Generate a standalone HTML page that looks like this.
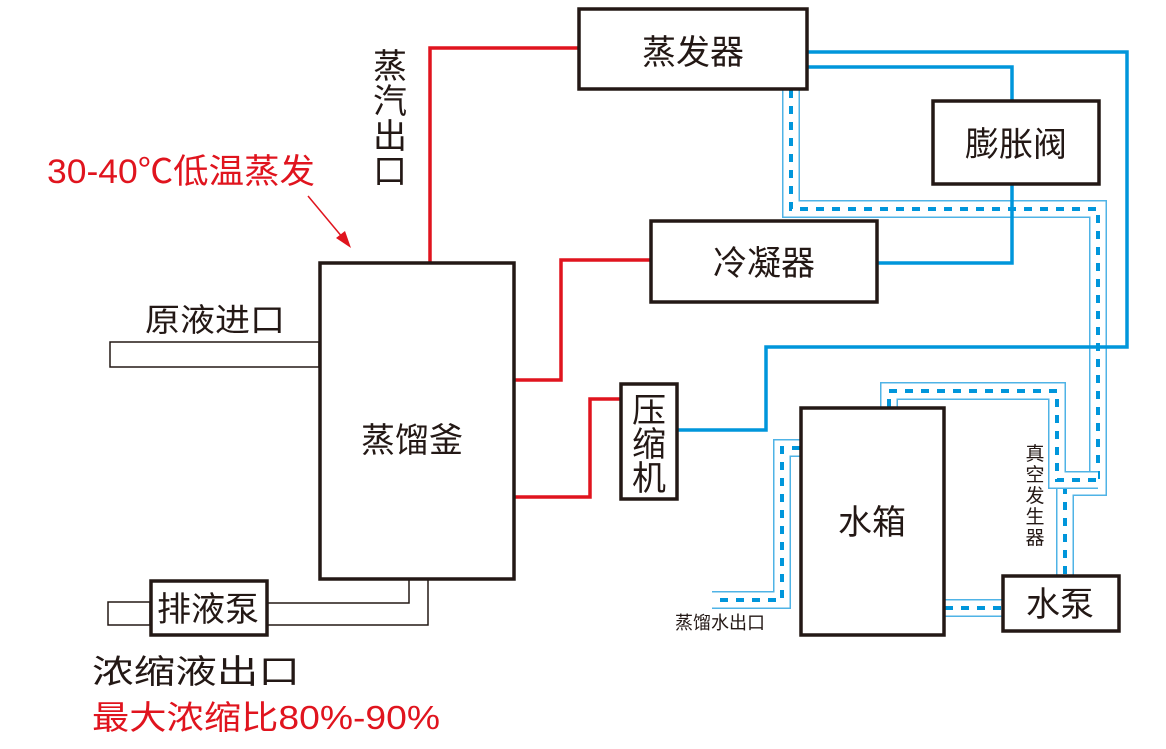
<!DOCTYPE html>
<html><head><meta charset="utf-8"><style>
body{margin:0;background:#fff;}
svg text{font-family:"Liberation Sans","Noto Sans CJK SC",sans-serif;fill:#231815;}
</style></head><body>
<svg width="1166" height="744" viewBox="0 0 1166 744" xmlns="http://www.w3.org/2000/svg">
<g fill="none" stroke-linejoin="miter">
<polyline points="791,90 791,209 1098,209 1098,487 1065,487 1065,575" stroke="#4fb3e6" stroke-width="18"/>
<polyline points="791,90 791,209 1098,209 1098,487 1065,487 1065,575" stroke="#fff" stroke-width="15"/>
<polyline points="791,90 791,209 1098,209 1098,487 1065,487 1065,575" stroke="#0096db" stroke-width="4" stroke-dasharray="8,8"/>
<polyline points="889,407 889,391 1057,391 1057,480 1098,480" stroke="#4fb3e6" stroke-width="18"/>
<polyline points="889,407 889,391 1057,391 1057,480 1098,480" stroke="#fff" stroke-width="15"/>
<polyline points="889,407 889,391 1057,391 1057,480 1096,480" stroke="#0096db" stroke-width="4" stroke-dasharray="8,8"/>
<polyline points="800,448 782,448 782,600 712,600" stroke="#4fb3e6" stroke-width="18"/>
<polyline points="800,448 782,448 782,600 712,600" stroke="#fff" stroke-width="15"/>
<polyline points="800,448 782,448 782,600 714,600" stroke="#0096db" stroke-width="4" stroke-dasharray="8,8"/>
<line x1="945" y1="608" x2="1002" y2="608" stroke="#4fb3e6" stroke-width="18"/>
<line x1="945" y1="608" x2="1002" y2="608" stroke="#fff" stroke-width="15"/>
<line x1="945" y1="608" x2="1002" y2="608" stroke="#0096db" stroke-width="4" stroke-dasharray="8,8"/>
</g>
<g fill="none" stroke="#0096db" stroke-width="3.5">
<polyline points="808,52 1127,52 1127,347 766,347 766,430 678,430"/>
<polyline points="808,67 1012,67 1012,100"/>
<polyline points="1012,185 1012,263 878,263"/>
</g>
<g fill="none" stroke="#e0141e" stroke-width="3.5">
<polyline points="430,262 430,48 578,48"/>
<polyline points="515,380 561,380 561,260 650,260"/>
<polyline points="515,497 590,497 590,399 620,399"/>
</g>
<g fill="none" stroke="#231815" stroke-width="1.5">
<rect x="110" y="342" width="209" height="25" fill="#fff"/>
<rect x="108" y="602" width="42" height="23" fill="#fff"/>
<polyline points="268,603 409,603 409,580"/>
<polyline points="268,625 428,625 428,580"/>
</g>
<g fill="#fff" stroke="#231815" stroke-width="3.5">
<rect x="579" y="9" width="228" height="80"/>
<rect x="933" y="101" width="166" height="83"/>
<rect x="651" y="221" width="226" height="81"/>
<rect x="621" y="384" width="56" height="115"/>
<rect x="320" y="263" width="194" height="316"/>
<rect x="801" y="408" width="143" height="227"/>
<rect x="1003" y="576" width="116" height="55"/>
<rect x="151" y="581" width="116" height="54"/>
</g>
<line x1="308" y1="196" x2="343" y2="238" stroke="#e0141e" stroke-width="1.5"/>
<polygon points="351,248 336,238 345,231" fill="#e0141e"/>
<g font-size="34">
<text x="693" y="64" text-anchor="middle">蒸发器</text>
<text x="1016" y="156" text-anchor="middle">膨胀阀</text>
<text x="764" y="275" text-anchor="middle">冷凝器</text>
<text x="412" y="452" text-anchor="middle">蒸馏釜</text>
<text x="872" y="534" text-anchor="middle">水箱</text>
<text x="1060" y="616" text-anchor="middle">水泵</text>
<text x="208" y="621" text-anchor="middle">排液泵</text>
<text x="649" y="422" text-anchor="middle">压</text>
<text x="649" y="456" text-anchor="middle">缩</text>
<text x="649" y="490" text-anchor="middle">机</text>
<text x="390" y="78" text-anchor="middle">蒸</text>
<text x="390" y="113" text-anchor="middle">汽</text>
<text x="390" y="148" text-anchor="middle">出</text>
<text x="390" y="183" text-anchor="middle">口</text>
<text x="145" y="331" font-size="32" textLength="140" lengthAdjust="spacingAndGlyphs">原液进口</text>
<text x="92" y="683" font-size="33" textLength="208" lengthAdjust="spacingAndGlyphs">浓缩液出口</text>
<text x="92" y="729" font-size="33" style="fill:#e0141e" textLength="348" lengthAdjust="spacingAndGlyphs">最大浓缩比80%-90%</text>
<text x="47" y="183" font-size="34" style="fill:#e0141e" textLength="268" lengthAdjust="spacingAndGlyphs">30-40℃低温蒸发</text>
</g>
<g font-size="19" text-anchor="middle">
<text x="1035" y="460">真</text>
<text x="1035" y="481">空</text>
<text x="1035" y="502">发</text>
<text x="1035" y="523">生</text>
<text x="1035" y="544">器</text>
<text x="720" y="629" font-size="18">蒸馏水出口</text>
</g>
</svg>
</body></html>
